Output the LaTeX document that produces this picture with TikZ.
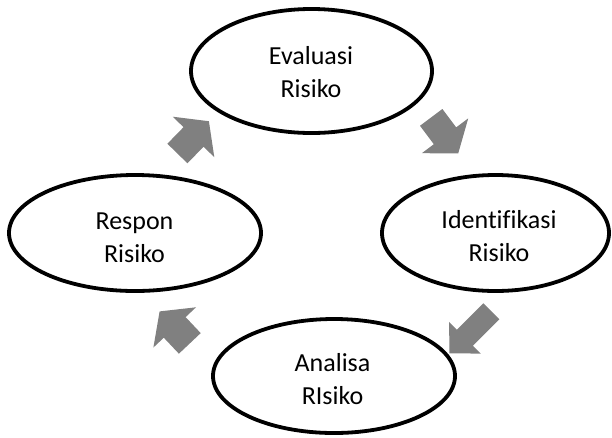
\documentclass[tikz,border=0pt]{standalone}
\usepackage{fontspec}
\setmainfont{Carlito}[Ligatures={NoCommon}]
\usetikzlibrary{shapes.geometric,calc}
\definecolor{arrowgray}{RGB}{128,128,128}
\tikzset{
  ell/.style={draw=black, line width=3.8pt, ellipse, inner sep=0pt},
  lbl/.style={align=center, font=\fontsize{26}{33}\selectfont, inner sep=0pt},
  arrowfill/.style={fill=arrowgray, draw=none}
}
% #1 name, #2 start coordinate, #3 tip coordinate, #4 shaft half width, #5 head half width
\newcommand{\blockarrow}[5]{%
  \coordinate (#1hb) at ($(#3)!22pt!(#2)$);
  \fill[arrowfill] ($(#2)!#4!90:(#3)$) -- ($(#1hb)!#4!90:(#3)$) -- ($(#1hb)!#5!90:(#3)$)
    -- (#3) -- ($(#1hb)!#5!-90:(#3)$) -- ($(#1hb)!#4!-90:(#3)$) -- ($(#2)!#4!-90:(#3)$) -- cycle;
}
\begin{document}
\begin{tikzpicture}[x=1pt,y=-1pt]
  \useasboundingbox (0,0) rectangle (612,437);
  % ellipses
  \node[ell, minimum width=241pt, minimum height=124pt] (eval) at (311.5,71) {};
  \node[ell, minimum width=252pt, minimum height=116pt] (resp) at (135,233) {};
  \node[ell, minimum width=227pt, minimum height=116pt] (iden) at (495.5,233) {};
  \node[ell, minimum width=242pt, minimum height=114pt] (anal) at (334,376) {};
  % labels
  \node[lbl] (evalt) at (311,72.5) {Evaluasi\\Risiko};
  \node[lbl] (respt) at (134.5,238) {Respon\\Risiko};
  \node[lbl] (ident) at (499,236.5) {Identifikasi\\Risiko};
  \node[lbl] (analt) at (332.5,379.5) {Analisa\\RIsiko};
  % block arrows
  \coordinate (a1s) at (177.4,153.5); \coordinate (a1e) at (208.9,121.2);
  \coordinate (a2s) at (431.2,117.4); \coordinate (a2e) at (458.2,153.4);
  \coordinate (a3s) at (491.4,311.3); \coordinate (a3e) at (449.4,353.3);
  \coordinate (a4s) at (189.8,343.4); \coordinate (a4e) at (159.6,311.4);
  \blockarrow{a1}{a1s}{a1e}{14pt}{29pt}
  \blockarrow{a2}{a2s}{a2e}{14pt}{29pt}
  \blockarrow{a3}{a3s}{a3e}{11.3pt}{22.4pt}
  \blockarrow{a4}{a4s}{a4e}{15pt}{29.3pt}
\end{tikzpicture}
\end{document}
